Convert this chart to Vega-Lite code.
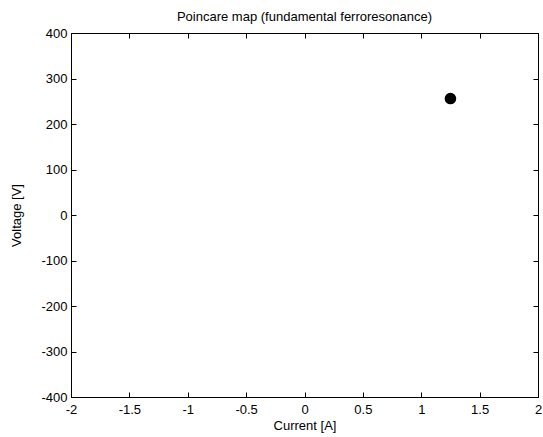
{
  "$schema": "https://vega.github.io/schema/vega-lite/v6.json",
  "width": 467,
  "height": 364,
  "autosize": {"type": "none"},
  "padding": {"left": 71, "top": 33, "right": 5, "bottom": 40},
  "background": "white",
  "title": {"text": "Poincare map (fundamental ferroresonance)", "font": "Liberation Sans", "fontSize": 13, "fontWeight": "normal", "color": "black", "offset": 3},
  "config": {
    "view": {"stroke": "black", "strokeWidth": 1},
    "axis": {"grid": false, "domainColor": "black", "tickColor": "black", "labelColor": "black", "titleColor": "black", "labelFont": "Liberation Sans", "titleFont": "Liberation Sans", "labelFontSize": 13, "titleFontSize": 13, "titleFontWeight": "normal", "tickSize": -5, "labelPadding": 9, "labelExpr": "'' + datum.value"}
  },
  "data": {"values": [{"current": 1.25, "voltage": 256}]},
  "layer": [
    {
      "mark": {"type": "point", "filled": true, "color": "black", "opacity": 1, "size": 135},
      "encoding": {
        "x": {"field": "current", "type": "quantitative", "scale": {"domain": [-2, 2], "nice": false}, "axis": {"values": [-2, -1.5, -1, -0.5, 0, 0.5, 1, 1.5, 2], "title": "Current [A]", "labelFlush": false, "labelPadding": 11, "titlePadding": 3}},
        "y": {"field": "voltage", "type": "quantitative", "scale": {"domain": [-400, 400], "nice": false}, "axis": {"values": [-400, -300, -200, -100, 0, 100, 200, 300, 400], "title": "Voltage [V]", "labelFlush": false, "titlePadding": 17}}
      }
    },
    {
      "mark": {"type": "point", "opacity": 0},
      "encoding": {
        "x": {"field": "current", "type": "quantitative", "axis": {"orient": "top", "values": [-2, -1.5, -1, -0.5, 0, 0.5, 1, 1.5, 2], "labels": false, "title": null}},
        "y": {"field": "voltage", "type": "quantitative", "axis": {"orient": "right", "values": [-400, -300, -200, -100, 0, 100, 200, 300, 400], "labels": false, "title": null}}
      }
    }
  ],
  "resolve": {"axis": {"x": "independent", "y": "independent"}}
}
